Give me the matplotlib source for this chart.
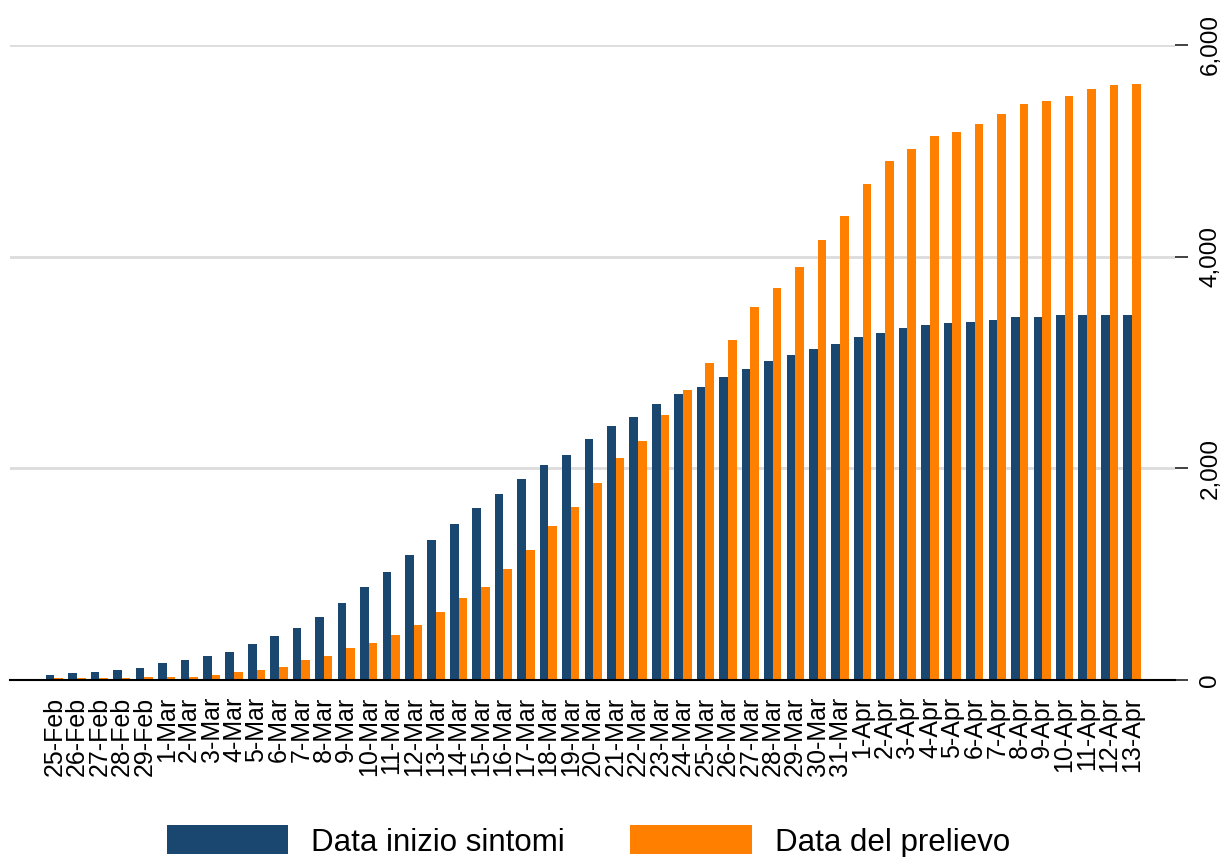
import matplotlib.pyplot as plt
import numpy as np
from matplotlib.ticker import FuncFormatter

plt.rcParams["font.family"] = ["Liberation Sans", "DejaVu Sans"]

# days 25-Feb .. 13-Apr
days = (["%d-Feb" % d for d in range(25, 30)]
        + ["%d-Mar" % d for d in range(1, 32)]
        + ["%d-Apr" % d for d in range(1, 14)])

# cumulative cases by date of symptom onset
sintomi = [47, 66, 78, 92, 110, 158, 186, 230, 262, 337,
           413, 488, 595, 731, 882, 1018, 1184, 1323, 1471, 1623,
           1761, 1897, 2032, 2123, 2275, 2397, 2485, 2605, 2700, 2770,
           2859, 2934, 3010, 3073, 3132, 3177, 3239, 3283, 3327, 3359,
           3375, 3387, 3403, 3431, 3431, 3450, 3450, 3450, 3450]

# cumulative cases by sampling date
prelievo = [19, 19, 19, 19, 31, 31, 31, 47, 78, 92,
            123, 186, 230, 305, 350, 425, 517, 640, 775, 882,
            1049, 1228, 1455, 1638, 1865, 2095, 2259, 2501, 2744, 3000,
            3208, 3526, 3705, 3903, 4158, 4387, 4690, 4900, 5016, 5139,
            5180, 5256, 5345, 5439, 5467, 5515, 5587, 5618, 5634]

BLUE = "#1a476f"
ORANGE = "#ff8000"

fig = plt.figure(figsize=(12.23, 8.57), dpi=100)
ax = fig.add_axes([0.0082, 0.2065, 0.9526, 0.741])

x = np.arange(len(days))
w = 0.385
ax.bar(x - w / 2, sintomi, w, color=BLUE, label="Data inizio sintomi", zorder=3)
ax.bar(x + w / 2, prelievo, w, color=ORANGE, label="Data del prelievo", zorder=3)

ax.set_xlim(-1.98, len(days) - 1 + 1.92)
ax.set_ylim(0, 6000)
ax.set_xticks(x)
ax.set_xticklabels(days, rotation=90, fontsize=18)
ax.tick_params(axis="x", length=0, pad=12)

ax.yaxis.tick_right()
ax.set_yticks([0, 2000, 4000, 6000])
ax.yaxis.set_major_formatter(FuncFormatter(lambda v, p: "{:,.0f}".format(v)))
ax.tick_params(axis="y", length=9.5, width=1.3, color="#333333", pad=8, labelsize=17.5)
for lab in ax.get_yticklabels():
    lab.set_rotation(90)
    lab.set_va("center")

ax.grid(axis="y", color="#dcdcdc", linewidth=2, zorder=0)
for s in ["top", "left", "right"]:
    ax.spines[s].set_visible(False)
ax.spines["bottom"].set_color("black")
ax.spines["bottom"].set_linewidth(1.5)
ax.spines["bottom"].set_zorder(4)

fig.legend(loc="center", bbox_to_anchor=(0.481, 0.018), ncol=2, frameon=False,
           fontsize=22.5, handlelength=3.9, handleheight=1.05,
           handletextpad=0.72, columnspacing=2.1, borderaxespad=0)

fig.savefig("out.png", dpi=100, facecolor="white")
